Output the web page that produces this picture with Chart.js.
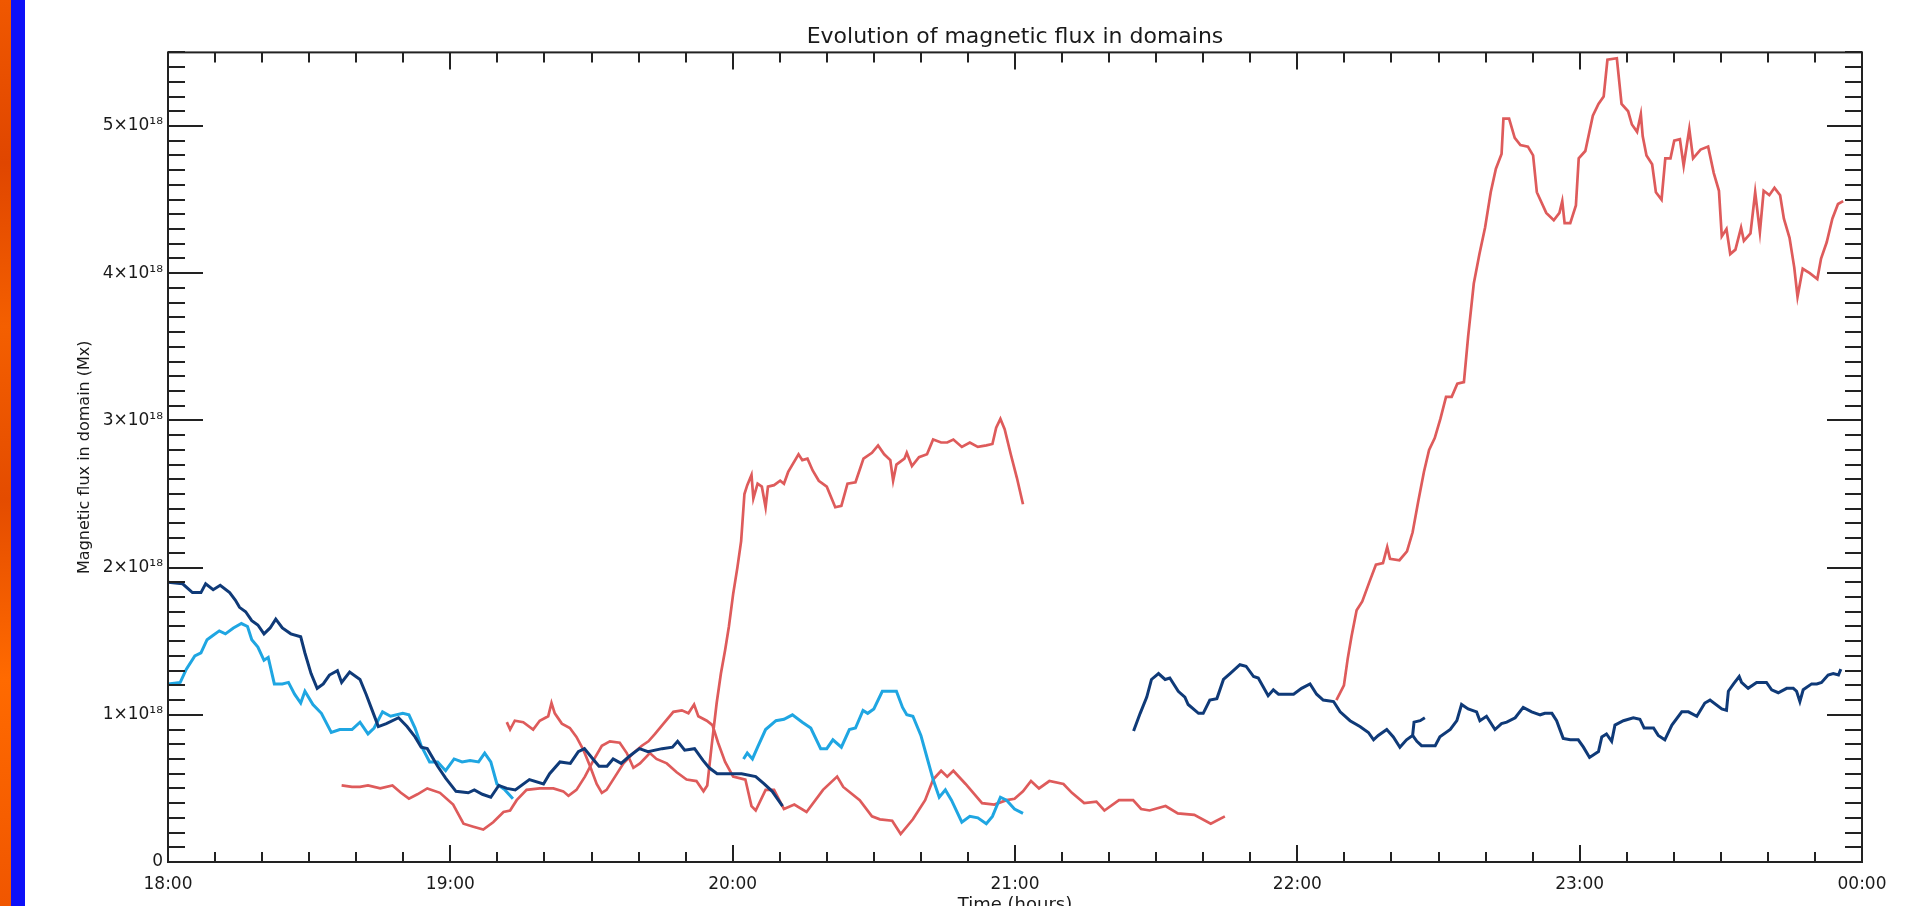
<!DOCTYPE html>
<html>
<head>
<meta charset="utf-8">
<title>Evolution of magnetic flux in domains</title>
<script src="https://cdn.jsdelivr.net/npm/chart.js@4.4.1/dist/chart.umd.min.js"></script>
<style>
  html, body { margin: 0; padding: 0; background: #fff; overflow: hidden; }
  #stripeOrange {
    position: absolute; left: 0; top: 0; width: 11px; height: 906px;
    background: linear-gradient(180deg, #f05800 0%, #e04600 18%, #f45f00 36%, #e44c00 55%, #ff6a00 75%, #f05600 100%);
  }
  #stripeBlue { position: absolute; left: 11px; top: 0; width: 14px; height: 906px; background: #0d10f8; }
  #wrap { position: absolute; left: 25px; top: 0; width: 1890px; height: 930px; }
</style>
</head>
<body>
<div id="stripeOrange"></div>
<div id="stripeBlue"></div>
<div id="wrap"><canvas id="fluxChart"></canvas></div>
<script>
// times are minutes after 18:00 UT, flux in units of 10^18 Mx

// dark blue domain, first part
const navy1T = [0, 3.1, 5.2, 7.0, 8.0, 9.6, 11.1, 13.1, 14.3, 15.2, 16.5, 17.8, 19.1, 20.4, 21.7, 22.9, 24.3, 26.1, 28.2, 29.1, 30.4, 31.7, 33.0, 34.3, 36.0, 36.9, 38.6, 40.8, 42.1, 43.4, 44.7, 46.4, 49.0, 50.8, 52.5, 53.8, 55.1, 57.3, 59.0, 61.2, 63.8, 65.1, 66.8, 68.6, 70.3, 72.0, 73.8, 76.8, 79.8, 81.1, 83.3, 85.5, 87.2, 88.5, 90.3, 91.6, 93.3, 94.6, 96.3, 98.1, 100.2, 102.0, 105.0, 107.2, 108.3, 109.8, 111.9, 113.7, 115.0, 116.7, 119.7, 121.9, 124.9, 126.7, 128.4, 130.6];
const navy1F = [1.90, 1.89, 1.83, 1.83, 1.89, 1.85, 1.88, 1.83, 1.78, 1.73, 1.70, 1.64, 1.61, 1.55, 1.59, 1.65, 1.59, 1.55, 1.53, 1.42, 1.28, 1.18, 1.21, 1.27, 1.30, 1.22, 1.29, 1.24, 1.14, 1.03, 0.92, 0.94, 0.98, 0.92, 0.85, 0.78, 0.77, 0.65, 0.57, 0.48, 0.47, 0.49, 0.46, 0.44, 0.52, 0.50, 0.49, 0.56, 0.53, 0.60, 0.68, 0.67, 0.75, 0.77, 0.70, 0.65, 0.65, 0.70, 0.67, 0.72, 0.77, 0.75, 0.77, 0.78, 0.82, 0.76, 0.77, 0.69, 0.64, 0.60, 0.60, 0.60, 0.58, 0.53, 0.48, 0.38];

const navy2T = [205.2, 206.6, 208.0, 209.0, 210.5, 211.9, 212.9, 214.7, 216.1, 216.8, 219.0, 220.0, 221.4, 222.9, 224.3, 225.7, 227.8, 229.1, 230.7, 231.7, 233.8, 234.9, 236.0, 239.2, 240.9, 242.7, 244.1, 245.5, 247.7, 249.1, 251.2, 253.3, 255.1, 256.2, 257.2, 259.0, 260.4, 261.8, 263.2, 264.5, 264.8, 266.1, 267.1];
const navy2F = [0.89, 1.01, 1.12, 1.24, 1.28, 1.24, 1.25, 1.16, 1.12, 1.07, 1.01, 1.01, 1.10, 1.11, 1.24, 1.28, 1.34, 1.33, 1.26, 1.25, 1.13, 1.17, 1.14, 1.14, 1.18, 1.21, 1.14, 1.10, 1.09, 1.02, 0.96, 0.92, 0.88, 0.83, 0.86, 0.90, 0.85, 0.78, 0.83, 0.86, 0.95, 0.96, 0.98];

const navy3T = [264.5, 265.4, 266.4, 269.3, 270.3, 272.5, 273.9, 274.9, 276.3, 278.1, 278.8, 280.2, 282.0, 283.4, 284.5, 286.3, 288.0, 289.8, 291.6, 292.6, 294.1, 295.1, 296.5, 298.0, 299.7, 300.8, 302.1, 304.0, 304.7, 305.7, 306.8, 307.5, 309.3, 311.4, 312.8, 313.7, 315.7, 316.7, 318.1, 319.6, 321.7, 323.1, 324.9, 326.6, 327.7, 330.2, 331.2, 331.6, 332.7, 333.9, 334.4, 335.8, 337.6, 339.7, 340.8, 342.2, 344.0, 345.4, 346.1, 346.8, 347.5, 349.3, 350.4, 351.4, 352.8, 353.9, 355.0, 355.5];
const navy3F = [0.86, 0.82, 0.79, 0.79, 0.85, 0.90, 0.96, 1.07, 1.04, 1.02, 0.96, 0.99, 0.90, 0.94, 0.95, 0.98, 1.05, 1.02, 1.00, 1.01, 1.01, 0.96, 0.84, 0.83, 0.83, 0.78, 0.71, 0.75, 0.85, 0.87, 0.82, 0.93, 0.96, 0.98, 0.97, 0.91, 0.91, 0.86, 0.83, 0.93, 1.02, 1.02, 0.99, 1.08, 1.10, 1.04, 1.03, 1.16, 1.21, 1.26, 1.22, 1.18, 1.22, 1.22, 1.17, 1.15, 1.18, 1.18, 1.16, 1.09, 1.17, 1.21, 1.21, 1.22, 1.27, 1.28, 1.27, 1.31];

// light blue domain
const cyan1T = [0, 2.6, 3.9, 5.7, 7.0, 8.3, 9.6, 10.9, 12.2, 13.9, 15.6, 16.9, 17.8, 19.1, 20.4, 21.3, 22.6, 24.3, 25.6, 26.9, 28.2, 29.1, 30.8, 32.6, 34.7, 36.5, 39.1, 40.8, 42.5, 43.8, 45.6, 47.3, 49.9, 51.2, 52.5, 53.8, 55.6, 57.3, 59.0, 60.8, 62.5, 64.2, 66.0, 67.3, 68.6, 69.9, 71.6, 73.3];
const cyan1F = [1.21, 1.22, 1.31, 1.40, 1.42, 1.51, 1.54, 1.57, 1.55, 1.59, 1.62, 1.60, 1.51, 1.46, 1.37, 1.39, 1.21, 1.21, 1.22, 1.14, 1.08, 1.16, 1.07, 1.01, 0.88, 0.90, 0.90, 0.95, 0.87, 0.91, 1.02, 0.99, 1.01, 1.00, 0.91, 0.79, 0.68, 0.68, 0.62, 0.70, 0.68, 0.69, 0.68, 0.74, 0.68, 0.53, 0.49, 0.43];

const cyan2T = [122.3, 123.1, 124.2, 125.3, 127.0, 129.2, 130.9, 132.7, 134.8, 136.6, 138.7, 140.0, 141.3, 143.1, 144.8, 146.1, 147.7, 148.7, 150.0, 151.8, 154.8, 156.1, 157.0, 158.3, 160.0, 161.3, 162.6, 163.9, 165.2, 166.5, 168.7, 170.4, 172.1, 173.9, 175.2, 176.9, 178.2, 179.9, 181.7];
const cyan2F = [0.70, 0.74, 0.70, 0.78, 0.90, 0.96, 0.97, 1.00, 0.95, 0.91, 0.77, 0.77, 0.83, 0.78, 0.90, 0.91, 1.03, 1.01, 1.04, 1.16, 1.16, 1.05, 1.00, 0.99, 0.86, 0.71, 0.56, 0.44, 0.49, 0.42, 0.27, 0.31, 0.30, 0.26, 0.31, 0.44, 0.42, 0.36, 0.33];

// red domains
const redAT = [36.9, 39.1, 40.8, 42.5, 45.1, 47.7, 49.5, 51.2, 53.0, 55.1, 57.8, 60.6, 62.8, 64.9, 67.0, 69.1, 71.3, 72.7, 74.1, 76.2, 79.0, 81.9, 84.0, 85.1, 86.8, 88.6, 90.4, 92.2, 93.9, 96.0, 97.5, 98.9, 100.3, 102.4, 103.8, 106.0, 108.1, 110.2, 112.3, 113.8, 114.6, 115.5, 116.6, 117.5, 118.4, 119.2, 120.1, 121.0, 121.8, 122.5, 123.1, 124.0, 124.4, 125.3, 126.2, 127.0, 127.5, 128.8, 130.1, 130.9, 131.8, 134.0, 134.8, 135.9, 137.0, 138.3, 140.0, 141.8, 143.1, 144.4, 146.1, 147.8, 149.6, 150.9, 152.2, 153.5, 154.1, 154.8, 156.5, 157.0, 158.1, 159.6, 161.3, 162.6, 164.3, 165.6, 166.9, 168.7, 170.4, 172.1, 173.9, 175.2, 176.0, 176.9, 177.8, 179.1, 180.4, 181.7];
const redAF = [0.52, 0.51, 0.51, 0.52, 0.50, 0.52, 0.47, 0.43, 0.46, 0.50, 0.47, 0.39, 0.26, 0.24, 0.22, 0.27, 0.34, 0.35, 0.42, 0.49, 0.50, 0.50, 0.48, 0.45, 0.49, 0.58, 0.69, 0.79, 0.82, 0.81, 0.74, 0.64, 0.67, 0.74, 0.70, 0.67, 0.61, 0.56, 0.55, 0.48, 0.52, 0.78, 1.08, 1.28, 1.44, 1.60, 1.82, 2.00, 2.18, 2.50, 2.56, 2.63, 2.47, 2.57, 2.55, 2.41, 2.55, 2.56, 2.59, 2.57, 2.65, 2.77, 2.73, 2.74, 2.66, 2.59, 2.55, 2.41, 2.42, 2.57, 2.58, 2.74, 2.78, 2.83, 2.77, 2.73, 2.59, 2.70, 2.74, 2.78, 2.69, 2.75, 2.77, 2.87, 2.85, 2.85, 2.87, 2.82, 2.85, 2.82, 2.83, 2.84, 2.95, 3.01, 2.94, 2.77, 2.61, 2.43];

const redBT = [72.0, 72.7, 73.7, 75.5, 77.6, 79.0, 80.8, 81.5, 82.2, 83.7, 85.4, 86.8, 88.3, 89.7, 91.1, 92.2, 93.2, 95.0, 96.8, 98.9, 100.7, 102.1, 103.5, 105.3, 107.4, 109.2, 110.6, 111.8, 112.7, 114.5, 115.7, 116.9, 118.4, 120.1, 122.7, 124.0, 124.9, 127.0, 128.8, 130.9, 133.1, 135.7, 139.2, 142.2, 143.5, 147.0, 149.6, 151.3, 153.9, 155.7, 158.3, 160.9, 162.6, 164.3, 165.6, 166.9, 169.5, 173.0, 175.6, 178.2, 179.9, 181.7, 183.4, 185.1, 187.3, 190.3, 192.1, 194.7, 197.3, 199.0, 202.1, 205.1, 206.8, 208.6, 212.0, 214.6, 218.1, 221.6, 224.6];
const redBF = [0.95, 0.90, 0.96, 0.95, 0.90, 0.96, 0.99, 1.08, 1.01, 0.94, 0.91, 0.85, 0.76, 0.65, 0.53, 0.47, 0.49, 0.58, 0.67, 0.74, 0.79, 0.82, 0.87, 0.94, 1.02, 1.03, 1.01, 1.07, 0.99, 0.96, 0.93, 0.81, 0.68, 0.58, 0.56, 0.38, 0.35, 0.49, 0.49, 0.36, 0.39, 0.34, 0.49, 0.58, 0.51, 0.42, 0.31, 0.29, 0.28, 0.19, 0.29, 0.42, 0.56, 0.62, 0.58, 0.62, 0.53, 0.40, 0.39, 0.42, 0.43, 0.48, 0.55, 0.50, 0.55, 0.53, 0.47, 0.40, 0.41, 0.35, 0.42, 0.42, 0.36, 0.35, 0.38, 0.33, 0.32, 0.26, 0.31];

const redCT = [248.3, 249.9, 250.7, 251.5, 252.6, 253.8, 255.4, 256.7, 258.2, 259.1, 259.7, 261.7, 263.3, 264.5, 265.7, 266.9, 268.0, 269.2, 270.4, 271.6, 272.8, 274.0, 275.4, 276.3, 277.5, 278.7, 279.9, 281.1, 282.2, 283.4, 283.8, 285.0, 286.2, 287.4, 289.0, 290.1, 290.9, 292.9, 294.5, 295.7, 296.3, 296.8, 298.0, 299.2, 299.8, 301.2, 302.8, 304.0, 305.1, 305.9, 307.9, 308.9, 310.3, 311.1, 312.2, 313.0, 313.4, 314.2, 315.4, 316.2, 317.4, 318.2, 319.3, 320.1, 321.3, 322.1, 323.3, 324.1, 325.7, 327.3, 328.5, 329.6, 330.2, 331.2, 332.0, 333.1, 334.3, 334.9, 336.3, 337.3, 338.3, 339.1, 340.3, 341.4, 342.6, 343.4, 344.6, 345.6, 346.3, 347.4, 348.9, 350.5, 351.3, 352.5, 353.7, 354.9, 356.0];
const redCF = [1.10, 1.20, 1.38, 1.53, 1.71, 1.77, 1.91, 2.02, 2.03, 2.14, 2.06, 2.05, 2.11, 2.24, 2.45, 2.65, 2.80, 2.88, 3.01, 3.16, 3.16, 3.25, 3.26, 3.57, 3.93, 4.13, 4.31, 4.55, 4.71, 4.81, 5.05, 5.05, 4.92, 4.87, 4.86, 4.80, 4.55, 4.41, 4.36, 4.41, 4.49, 4.34, 4.34, 4.46, 4.78, 4.83, 5.07, 5.15, 5.20, 5.45, 5.46, 5.15, 5.10, 5.01, 4.96, 5.08, 4.93, 4.80, 4.74, 4.55, 4.50, 4.78, 4.78, 4.90, 4.91, 4.73, 4.98, 4.78, 4.84, 4.86, 4.68, 4.56, 4.25, 4.30, 4.13, 4.16, 4.31, 4.22, 4.27, 4.55, 4.28, 4.56, 4.53, 4.58, 4.53, 4.37, 4.24, 4.04, 3.84, 4.03, 4.00, 3.96, 4.10, 4.21, 4.37, 4.47, 4.49];

// axis ticks
const hourTicks = [0, 60, 120, 180, 240, 300, 360];
const fluxTicks = [0, 1, 2, 3, 4, 5];
const minorMinutes = 10;
const minorFlux = 0.1;

const NAVY = '#0f3a78';
const CYAN = '#1fa6e2';
const RED = '#de5b5b';

Chart.defaults.font.family = "'DejaVu Sans', sans-serif";
Chart.defaults.color = '#1a1a1a';

function seg(t, f, color, width) {
  return {
    data: t.map((m, i) => ({ x: m, y: f[i] })),
    borderColor: color,
    borderWidth: width,
    pointRadius: 0,
    tension: 0,
    fill: false
  };
}

// IDL style box with inward ticks on all four sides
const frameTicks = {
  id: 'frameTicks',
  afterDraw(chart) {
    const { ctx, chartArea: a, scales: { x, y } } = chart;
    ctx.save();
    ctx.strokeStyle = '#222';
    ctx.lineWidth = 2;
    ctx.strokeRect(a.left, a.top, a.right - a.left, a.bottom - a.top);
    ctx.beginPath();
    for (let m = x.min; m <= x.max + 0.01; m += minorMinutes) {
      const px = Math.round(x.getPixelForValue(m));
      const len = hourTicks.includes(Math.round(m)) ? 17 : 10;
      ctx.moveTo(px, a.bottom); ctx.lineTo(px, a.bottom - len);
      ctx.moveTo(px, a.top); ctx.lineTo(px, a.top + len);
    }
    for (let k = 0; k * minorFlux <= y.max + 0.001; k++) {
      const v = k * minorFlux;
      const py = Math.round(y.getPixelForValue(v));
      const len = k % 10 === 0 ? 35 : 17;
      ctx.moveTo(a.left, py); ctx.lineTo(a.left + len, py);
      ctx.moveTo(a.right, py); ctx.lineTo(a.right - len, py);
    }
    ctx.stroke();
    ctx.restore();
  }
};

new Chart(document.getElementById('fluxChart'), {
  type: 'line',
  data: {
    datasets: [
      seg(navy1T, navy1F, NAVY, 3),
      seg(navy2T, navy2F, NAVY, 3),
      seg(navy3T, navy3F, NAVY, 3),
      seg(cyan1T, cyan1F, CYAN, 3),
      seg(cyan2T, cyan2F, CYAN, 3),
      seg(redAT, redAF, RED, 2.7),
      seg(redBT, redBF, RED, 2.7),
      seg(redCT, redCF, RED, 2.7)
    ]
  },
  options: {
    responsive: true,
    maintainAspectRatio: false,
    animation: false,
    devicePixelRatio: 1,
    layout: { padding: { left: 0, right: 53, top: 0, bottom: 0 } },
    plugins: {
      legend: { display: false },
      tooltip: { enabled: false },
      title: {
        display: true,
        fullSize: false,
        text: 'Evolution of magnetic flux in domains',
        color: '#1a1a1a',
        font: { size: 22, weight: 'normal' },
        padding: { top: 24, bottom: 2 }
      }
    },
    scales: {
      x: {
        type: 'linear',
        min: 0,
        max: 360,
        grid: { display: false, drawTicks: false },
        border: { display: false },
        afterBuildTicks: s => { s.ticks = hourTicks.map(v => ({ value: v })); },
        ticks: {
          autoSkip: false,
          maxRotation: 0,
          padding: 12,
          font: { size: 17 },
          callback: v => String((18 + v / 60) % 24).padStart(2, '0') + ':00'
        },
        title: {
          display: true,
          text: 'Time (hours)',
          font: { size: 18 },
          padding: { top: 0, bottom: 14 }
        },
        afterFit: s => { s.height = 68; }
      },
      y: {
        min: 0,
        max: 5.5,
        grid: { display: false, drawTicks: false },
        border: { display: false },
        afterBuildTicks: s => { s.ticks = fluxTicks.map(v => ({ value: v })); },
        ticks: {
          autoSkip: false,
          padding: 5,
          font: { size: 17 },
          callback: v => v === 0 ? '0' : v + '×10¹⁸'
        },
        title: {
          display: true,
          text: 'Magnetic flux in domain (Mx)',
          font: { size: 16 },
          padding: { top: 50, bottom: 0 }
        },
        afterFit: s => { s.width = 143; }
      }
    }
  },
  plugins: [frameTicks]
});
</script>
</body>
</html>
